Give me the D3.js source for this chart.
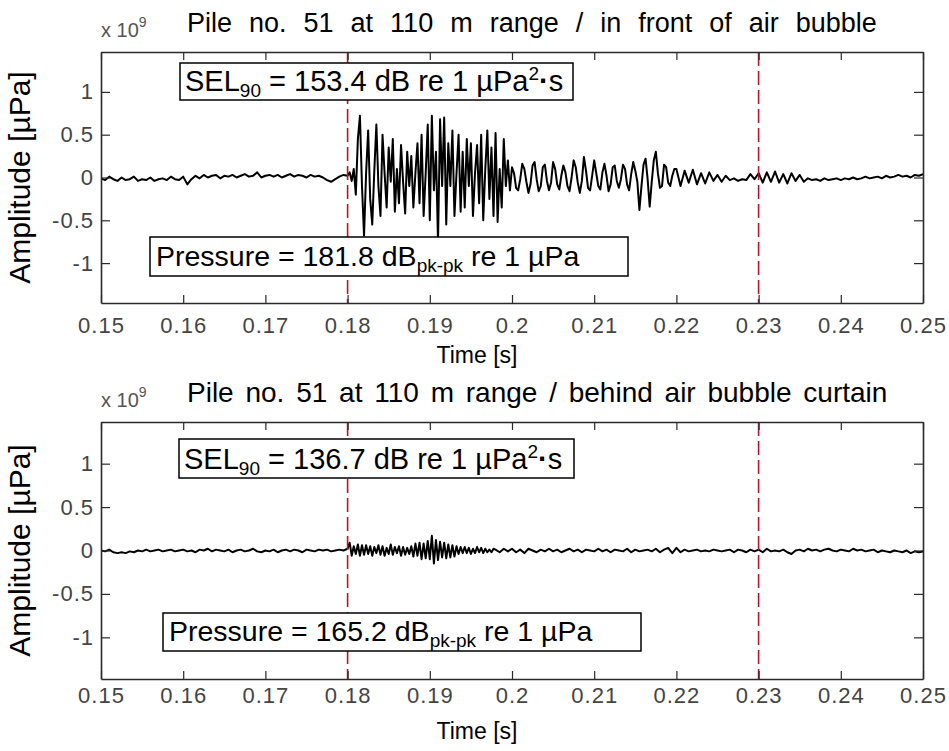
<!DOCTYPE html>
<html>
<head>
<meta charset="utf-8">
<script src="https://cdn.jsdelivr.net/npm/d3@7/dist/d3.min.js"></script>
<style>
  body { margin: 0; background: #fff; }
  svg { display: block; font-family: Arial, "Liberation Sans", sans-serif; }
  text { white-space: pre; }
</style>
</head>
<body>
<div id="chart"></div>
<script>
// ---- data (amplitude in units of 1e9 µPa, time in s) ----
var xTicks = [0.15, 0.16, 0.17, 0.18, 0.19, 0.2, 0.21, 0.22, 0.23, 0.24, 0.25];
var xTickLabels = ["0.15", "0.16", "0.17", "0.18", "0.19", "0.2", "0.21", "0.22", "0.23", "0.24", "0.25"];
var yTicks = [-1, -0.5, 0, 0.5, 1];
var yTickLabels = ["-1", "-0.5", "0", "0.5", "1"];
var markerTimes = [0.18, 0.23];

// top panel: in front of air bubble curtain
var topPre = [ // 0.150 .. 0.1795, step 0.5 ms
  -0.01, -0.03, 0.01, -0.02, -0.04, 0.00, -0.03, -0.02, 0.01, -0.04,
  -0.02, -0.03, 0.00, -0.04, -0.02, -0.01, -0.03, 0.01, -0.02, -0.03,
  0.01, -0.08, -0.02, 0.02, -0.01, 0.03, 0.00, 0.02, 0.03, -0.01,
  0.02, 0.01, 0.03, 0.00, 0.02, 0.04, 0.01, 0.02, 0.06, 0.00,
  0.02, 0.03, 0.01, 0.03, 0.00, 0.02, 0.04, 0.01, 0.03, 0.02,
  0.00, 0.03, 0.01, 0.02, 0.00, -0.03, -0.05, -0.02, 0.01, 0.03
];
var topBurst = [ // 0.180 .. 0.19975, step 0.25 ms
  0.02, 0.06, -0.04, 0.10,   -0.20, 0.45, 0.72, -0.10,
  -0.68, 0.05, 0.55, -0.25,  -0.55, 0.08, 0.62, -0.10,
  -0.45, 0.50, 0.05, -0.35,  0.35, -0.05, 0.45, -0.40,
  0.10, -0.30, 0.38, -0.05,  -0.42, 0.30, -0.10, 0.25,
  -0.35, 0.05, 0.40, -0.30,  0.50, -0.45, 0.05, 0.62,
  -0.50, 0.72, -0.15, 0.30,  -0.75, 0.68, -0.10, 0.70,
  -0.55, 0.40, -0.10, 0.55,  -0.45, 0.05, 0.50, -0.40,
  0.30, -0.35, 0.45, -0.10,  0.40, -0.45, 0.05, 0.38,
  -0.30, 0.50, -0.50, 0.10,  0.55, -0.25, 0.35, -0.45,
  0.52, -0.52, 0.10, -0.35,  0.45, -0.10, 0.20, -0.15
];
var topTail = [ // 0.200 .. 0.21975, step 0.25 ms
  0.12, 0.05, -0.12, -0.15, -0.02,  0.16, 0.10, -0.05, -0.18, -0.08,
  0.14, 0.18, -0.02, -0.16, -0.10,  0.12, 0.15, -0.04, -0.15, -0.06,
  0.18, 0.10, -0.08, -0.14, 0.02,   0.14, 0.06, -0.10, -0.16, 0.00,
  0.20, 0.12, -0.06, -0.18, -0.04,  0.24, 0.08, -0.12, -0.15, 0.02,
  0.20, 0.05, -0.10, -0.14, 0.06,   0.16, 0.02, -0.16, -0.08, 0.12,
  0.14, -0.04, -0.12, -0.02, 0.15,  0.10, -0.08, -0.15, 0.04, 0.18,
  0.08, -0.05, -0.38, -0.10, 0.15,  0.22, -0.02, -0.34, -0.05, 0.20,
  0.30, 0.05, -0.12, -0.10, 0.15,   0.12, -0.06, -0.10, 0.02, 0.10
];
var topPost = [ // 0.220 .. 0.250, step 0.5 ms
  0.10, -0.10, 0.08, -0.06, 0.09, -0.08, 0.05, -0.07, 0.06, -0.04,
  0.03, -0.05, 0.02, -0.03, -0.01, -0.04, -0.02, -0.03, 0.04, -0.02,
  0.05, -0.06, 0.06, -0.05, 0.07, -0.06, 0.04, -0.07, 0.05, -0.04,
  0.03, -0.05, -0.01, -0.03, -0.02, -0.04, -0.01, -0.03, -0.02, -0.01,
  -0.03, -0.01, -0.02, 0.00, -0.02, -0.01, 0.01, -0.01, 0.00, 0.01,
  -0.01, 0.02, 0.00, 0.01, 0.03, 0.01, 0.02, 0.00, 0.03, 0.02,
  0.04
];

// bottom panel: behind air bubble curtain
var botPre = [ // 0.150 .. 0.1795, step 0.5 ms
  0.00, -0.01, 0.01, -0.02, -0.03, -0.02, -0.03, -0.01, -0.02, 0.00,
  -0.01, 0.01, -0.01, 0.00, 0.01, -0.01, 0.00, 0.01, -0.01, 0.00,
  0.01, -0.01, 0.00, -0.02, 0.01, 0.00, 0.02, -0.01, 0.01, 0.00,
  -0.01, 0.01, -0.02, 0.00, 0.01, -0.01, 0.00, 0.02, -0.01, -0.02,
  0.00, -0.01, 0.01, -0.02, 0.00, 0.01, -0.01, 0.01, 0.00, -0.02,
  0.01, 0.00, -0.01, 0.01, 0.00, 0.01, -0.01, 0.00, 0.01, 0.00
];
var botBurst = [ // 0.180 .. 0.19775, step 0.25 ms
  0.02, 0.09, -0.06, 0.05,   -0.04, 0.07, -0.06, 0.06,
  -0.05, 0.06, -0.04, 0.05,  -0.06, 0.04, -0.03, 0.06,
  -0.05, 0.05, -0.06, 0.03,  -0.04, 0.07, -0.05, 0.04,
  -0.03, 0.05, -0.06, 0.04,  -0.05, 0.03, -0.04, 0.05,
  -0.07, 0.08, -0.06, 0.09,  -0.10, 0.08, -0.09, 0.11,
  -0.10, 0.17, -0.15, 0.12,  -0.11, 0.10, -0.08, 0.09,
  -0.09, 0.07, -0.08, 0.06,  -0.07, 0.05, -0.04, 0.04,
  -0.03, 0.04, -0.03, 0.03,  -0.04, 0.02, -0.03, 0.04,
  -0.02, 0.03, -0.03, 0.02,  -0.02, 0.01, -0.02, 0.02
];
var botPost = [ // 0.198 .. 0.250, step 0.5 ms
  0.01, -0.02, 0.02, -0.01,
  0.02, -0.02, 0.01, -0.03, 0.02, 0.00, -0.02, 0.01, -0.01, 0.02,
  -0.01, 0.01, -0.02, 0.00, 0.02, -0.01, 0.01, -0.02, 0.01, 0.00,
  -0.01, 0.02, -0.01, 0.01, -0.02, 0.01, 0.00, -0.01, 0.02, -0.02,
  0.01, -0.01, 0.00, 0.01, -0.01, 0.02, -0.02, 0.01, 0.03, -0.03,
  0.03, -0.02, 0.01, -0.01, 0.00, 0.01, -0.01, 0.00, -0.01, 0.01,
  0.00, -0.01, 0.00, 0.01, -0.02, 0.01, 0.00, -0.02, 0.01, -0.01,
  0.01, -0.02, 0.02, -0.01, 0.00, -0.01, 0.01, -0.02, -0.04, 0.00,
  0.01, -0.01, 0.02, 0.00, 0.01, -0.01, 0.01, 0.02, 0.00, -0.01,
  0.01, 0.00, -0.01, 0.02, 0.00, 0.01, -0.01, 0.00, 0.01, -0.02,
  0.00, -0.01, -0.02, 0.00, -0.01, -0.02, 0.00, -0.03, -0.01, -0.02,
  -0.01
];

// turn a sampled segment into {t, v} points
function segment(values, t0, step) {
  return values.map(function (v, i) { return { t: t0 + i * step, v: v }; });
}

var panels = [
  {
    top: 52, bottom: 303, ymax: 1.466, labelPad: 14,
    title: "Pile no. 51 at 110 m range / in front of air bubble", titleSize: 27, wordSpacing: 9.5, titleY: 32,
    points: segment(topPre, 0.15, 0.0005).concat(
      segment(topBurst, 0.18, 0.00025), segment(topTail, 0.2, 0.00025), segment(topPost, 0.22, 0.0005)),
    sel: "153.4", selBox: [180, 63, 573, 100],
    pressure: "181.8", pBox: [150, 237, 628, 276]
  },
  {
    top: 422, bottom: 679, ymax: 1.48, labelPad: 8,
    title: "Pile no. 51 at 110 m range / behind air bubble curtain", titleSize: 28, wordSpacing: 4, titleY: 402,
    points: segment(botPre, 0.15, 0.0005).concat(segment(botBurst, 0.18, 0.00025), segment(botPost, 0.198, 0.0005)),
    sel: "136.7", selBox: [179, 439, 574, 478],
    pressure: "165.2", pBox: [163, 613, 641, 651]
  }
];

var width = 949, height = 751;
var left = 101, right = 923;

var svg = d3.select("#chart").append("svg")
  .attr("width", width)
  .attr("height", height);

var x = d3.scaleLinear().domain([0.15, 0.25]).range([left, right]);

panels.forEach(function (p, pi) {
  var y = d3.scaleLinear().domain([-p.ymax, p.ymax]).range([p.bottom, p.top]);
  var g = svg.append("g");

  var clipId = "clip" + pi;
  svg.append("clipPath").attr("id", clipId)
    .append("rect")
    .attr("x", left).attr("y", p.top)
    .attr("width", right - left).attr("height", p.bottom - p.top);

  // signal
  var line = d3.line()
    .x(function (d) { return x(d.t); })
    .y(function (d) { return y(d.v); });

  g.append("path")
    .datum(p.points)
    .attr("clip-path", "url(#" + clipId + ")")
    .attr("fill", "none")
    .attr("stroke", "#000")
    .attr("stroke-width", 2)
    .attr("stroke-linejoin", "round")
    .attr("d", line);

  // 90% energy window markers
  g.selectAll(".marker")
    .data(markerTimes)
    .enter().append("line")
    .attr("class", "marker")
    .attr("x1", function (d) { return x(d); })
    .attr("x2", function (d) { return x(d); })
    .attr("y1", p.top)
    .attr("y2", p.bottom)
    .attr("stroke", "#b8142e")
    .attr("stroke-width", 1.6)
    .attr("stroke-dasharray", "14,5");

  // axes, ticks pointing inward like matlab
  var fmtX = function (d, i) { return xTickLabels[i]; };
  var fmtY = function (d, i) { return yTickLabels[i]; };

  var axB = g.append("g").attr("transform", "translate(0," + p.bottom + ")")
    .call(d3.axisBottom(x).tickValues(xTicks).tickFormat(fmtX).tickSize(-8).tickSizeOuter(0).tickPadding(p.labelPad));
  var axT = g.append("g").attr("transform", "translate(0," + p.top + ")")
    .call(d3.axisTop(x).tickValues(xTicks).tickFormat("").tickSize(-8).tickSizeOuter(0));
  var axL = g.append("g").attr("transform", "translate(" + left + ",0)")
    .call(d3.axisLeft(y).tickValues(yTicks).tickFormat(fmtY).tickSize(-9).tickSizeOuter(0).tickPadding(7));
  var axR = g.append("g").attr("transform", "translate(" + right + ",0)")
    .call(d3.axisRight(y).tickValues(yTicks).tickFormat("").tickSize(-9).tickSizeOuter(0));

  [axB, axT, axL, axR].forEach(function (a) {
    a.select(".domain").attr("stroke", "#2a2a2a").attr("stroke-width", 1.6);
    a.selectAll(".tick line").attr("stroke", "#2a2a2a").attr("stroke-width", 1.2);
    a.selectAll(".tick text")
      .attr("fill", "#444")
      .style("font-size", "22px")
      .style("letter-spacing", "1px")
      .style("font-family", "Arial, 'Liberation Sans', sans-serif");
  });

  // exponent label
  var ex = g.append("text")
    .attr("x", 101).attr("y", p.top - 15)
    .attr("fill", "#555")
    .style("font-size", "20px");
  ex.append("tspan").text("x 10");
  ex.append("tspan").attr("dy", -10).style("font-size", "14px").text("9");

  // title
  g.append("text")
    .attr("x", 187).attr("y", p.titleY)
    .style("font-size", p.titleSize + "px")
    .style("word-spacing", p.wordSpacing + "px")
    .text(p.title);

  // axis titles
  g.append("text")
    .attr("x", 477).attr("y", p.bottom + 60)
    .attr("text-anchor", "middle")
    .style("font-size", "23px")
    .text("Time [s]");

  g.append("text")
    .attr("transform", "translate(30," + ((p.top + p.bottom) / 2) + ")rotate(-90)")
    .attr("text-anchor", "middle")
    .style("font-size", "30px")
    .text("Amplitude [µPa]");

  // SEL box
  var sb = p.selBox;
  g.append("rect")
    .attr("x", sb[0]).attr("y", sb[1])
    .attr("width", sb[2] - sb[0]).attr("height", sb[3] - sb[1])
    .attr("fill", "#fff").attr("stroke", "#000").attr("stroke-width", 1.5);
  var st = g.append("text")
    .attr("x", sb[0] + 5).attr("y", sb[3] - 9)
    .style("font-size", "29px");
  st.append("tspan").text("SEL");
  st.append("tspan").attr("dy", 6).style("font-size", "19px").text("90");
  st.append("tspan").attr("dy", -6).text(" = " + p.sel + " dB re 1 µPa");
  st.append("tspan").attr("dy", -11).style("font-size", "19px").text("2");
  st.append("tspan").attr("dy", 11).style("font-weight", "bold").text("·");
  st.append("tspan").text("s");

  // peak-to-peak pressure box
  var pb = p.pBox;
  g.append("rect")
    .attr("x", pb[0]).attr("y", pb[1])
    .attr("width", pb[2] - pb[0]).attr("height", pb[3] - pb[1])
    .attr("fill", "#fff").attr("stroke", "#000").attr("stroke-width", 1.5);
  var pt = g.append("text")
    .attr("x", pb[0] + 6).attr("y", pb[3] - 10)
    .style("font-size", "28.5px");
  pt.append("tspan").text("Pressure = " + p.pressure + " dB");
  pt.append("tspan").attr("dy", 6).style("font-size", "19px").text("pk-pk");
  pt.append("tspan").attr("dy", -6).text(" re 1 µPa");
});
</script>
</body>
</html>
